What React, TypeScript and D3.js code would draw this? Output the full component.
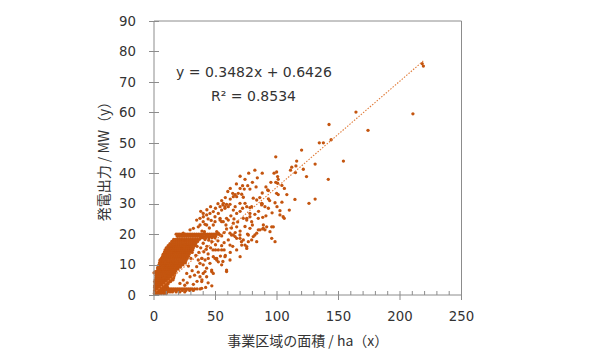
import React, { useEffect, useRef } from 'react';
import * as d3 from 'd3';

// axis ticks
const xTickValues = [0, 50, 100, 150, 200, 250];
const xMinorTicks = [10, 20, 30, 40, 60, 70, 80, 90, 110, 120, 130, 140, 160, 170, 180, 190, 210, 220, 230, 240];
const yTickValues = [0, 10, 20, 30, 40, 50, 60, 70, 80, 90];

// linear trendline shown on the chart
const slope = 0.3482;
const intercept = 0.6426;
const equationLabel = 'y = 0.3482x + 0.6426';
const r2Label = 'R² = 0.8534';
const xTitle = '事業区域の面積 / ha（x）';
const yTitle = '発電出力 / MW（y）';

// rows of [MW, areas] : the band just under 2 MW
const lowBandRows: [number, number[]][] = [
    [1.99, [1, 2.5, 4, 5.5, 7, 8.5, 10, 11.5, 13, 14.5, 16, 17.5, 19, 20.5, 22, 23.5, 25, 26.5, 28, 29.5, 31, 33, 35, 37.5]],
    [1.5, [0.5, 2, 3.5, 5, 6.5, 8, 9.5, 11, 12.5, 14, 16, 18, 20, 23, 26, 29, 32]],
    [1.0, [0.4, 1.5, 3, 4.5, 6, 7.5, 9, 11, 13, 15, 18, 21, 25]],
    [0.5, [0.3, 1, 2, 3, 4.5, 6, 8, 10]],
    [2.5, [0.5, 2, 3.5, 5, 6.5, 8, 9.5, 11]],
];

// dense wedge of small projects
const coreRows: [number, number[]][] = [
    [3.0, [0.5, 2, 3.5, 5, 6.5, 8, 9.5, 10.5]],
    [3.7, [1, 2.5, 4, 5.5, 7, 8.5, 10, 11.5]],
    [4.4, [0.5, 2, 3.5, 5, 6.5, 8, 9.5, 11, 12.5, 13.5]],
    [5.0, [1, 2.5, 4, 5.5, 7, 8.5, 10, 11.5, 13, 14.5, 15.5]],
    [5.7, [1.5, 3, 4.5, 6, 7.5, 9, 10.5, 12, 13.5, 15, 16]],
    [6.4, [1.5, 3, 4.5, 6, 7.5, 9, 10.5, 12, 13.5, 15, 16.5]],
    [7.1, [2, 3.5, 5, 6.5, 8, 9.5, 11, 12.5, 14, 15.5, 17]],
    [7.8, [2.5, 4, 5.5, 7, 8.5, 10, 11.5, 13, 14.5, 16, 17.5]],
    [8.5, [3, 4.5, 6, 7.5, 9, 10.5, 12, 13.5, 15, 16.5, 18, 19.5]],
    [9.2, [3.5, 5, 6.5, 8, 9.5, 11, 12.5, 14, 15.5, 17, 18.5, 20, 21.5]],
    [9.9, [4, 5.5, 7, 8.5, 10, 11.5, 13, 14.5, 16, 17.5, 19, 20.5, 22, 23.5]],
    [10.6, [4.5, 6, 7.5, 9, 10.5, 12, 13.5, 15, 16.5, 18, 19.5, 21, 22.5, 24, 25.5]],
    [11.3, [5, 6.5, 8, 9.5, 11, 12.5, 14, 15.5, 17, 18.5, 20, 21.5, 23, 24.5, 26]],
    [12.0, [6, 7.5, 9, 10.5, 12, 13.5, 15, 16.5, 18, 19.5, 21, 22.5, 24, 25.5, 27]],
    [12.7, [7, 8.5, 10, 11.5, 13, 14.5, 16, 17.5, 19, 20.5, 22, 23.5, 25, 26.5, 28]],
    [13.4, [7.5, 9, 10.5, 12, 13.5, 15, 16.5, 18, 19.5, 21, 22.5, 24, 25.5, 27, 28.5]],
    [14.1, [8.5, 10, 11.5, 13, 14.5, 16, 17.5, 19, 20.5, 22, 23.5, 25, 26.5, 28, 29.5]],
    [14.8, [9, 10.5, 12, 13.5, 15, 16.5, 18, 19.5, 21, 22.5, 24, 25.5, 27, 28.5, 30, 31.5]],
    [15.5, [10.5, 12, 13.5, 15, 16.5, 18, 19.5, 21, 22.5, 24, 25.5, 27, 28.5, 30, 32]],
    [16.2, [11.5, 13, 14.5, 16, 17.5, 19, 20.5, 22, 23.5, 25, 26.5, 28, 29.5, 31, 33]],
    [16.9, [13, 14.5, 16, 17.5, 19, 20.5, 22, 23.5, 25, 26.5, 28, 29.5, 31, 32.5, 34]],
    [17.6, [14.5, 16, 17.5, 19, 20.5, 22, 23.5, 25, 26.5, 28, 29.5, 31, 32.5, 34, 35.5]],
    [18.3, [16, 17.5, 19, 20.5, 22, 23.5, 25, 26.5, 28, 29.5, 31, 32.5, 34, 35.5, 37]],
];

// band just under 20 MW
const band20Rows: [number, number[]][] = [
    [19.99, [18, 19.5, 21, 22.5, 24, 25.5, 27, 28.5, 30, 31.5, 33, 34.5, 36, 37.5, 39, 40.5, 42, 43.5, 45, 46.5, 48, 49.5, 51, 52.5]],
    [19.3, [19, 20.5, 22, 23.5, 25, 26.5, 28, 29.5, 31, 32.5, 34, 35.5, 37, 38.5, 40, 42, 44, 46, 48, 50]],
    [18.8, [38, 40, 42, 44.5, 47, 49.5]],
];

const midScatter: [number, number][] = [
    [0, 7.3], [1, 7.7], [3, 9], [5, 11.5], [7.6, 13.1], [10, 15.5], [13, 16.4], [7.6, 5.5],
    [21.1, 3.8], [23.8, 4.9], [26.6, 7.1], [29.3, 6], [25, 3.2], [27, 4], [32, 3.5], [35, 4.5],
    [31, 8], [33, 6.5], [28, 9.5], [30, 12], [31, 14], [34.7, 9.3], [36, 7.5], [37.4, 6], [38.8, 4.4],
    [39, 5], [44, 4], [47, 3], [38.8, 2.2], [42, 2.5], [37.4, 10.4], [40, 9.9], [42.8, 8.8], [41.5, 7.7],
    [40, 7.1], [42.8, 6], [46.9, 7.7], [48.2, 7.1], [46.9, 8.2], [59, 7.7], [59, 8.2], [55, 9.9],
    [45.5, 10.4], [38.8, 12], [41.5, 11.5], [44.1, 12], [51, 11.5], [52.3, 10.9], [57.7, 12.6],
    [49.6, 12], [51, 12], [48.2, 12.6], [61.8, 11.5], [70, 12.6], [33, 17], [35, 16], [36.5, 14],
    [38, 15.5], [40, 17], [41.5, 18.2], [43, 16], [44, 13.5], [39, 12], [36, 11.5], [34, 13],
    [40.5, 14.2], [42.5, 15], [46, 15.5], [47, 17.5], [44.5, 18], [50, 16.5], [52, 17.8], [55, 16.2],
    [57, 17.2], [58, 13], [54, 12.8], [56, 11], [48, 14.8], [50, 14.8], [52.3, 14.8], [55, 14.8],
    [57, 14.8], [62, 14], [64, 16], [67.2, 14.8], [71.3, 16.4], [75.4, 15.9], [74, 16.4], [75.4, 15.3],
    [61.8, 16.4], [60.4, 18.1], [67.2, 18.6], [69.9, 18.6], [72.6, 18.1], [71.1, 17.5], [76.7, 17.5],
    [79.4, 18.1], [83.5, 17.5], [63, 19.7], [65.9, 19.2], [69.9, 19.7], [76.7, 19.7], [80.7, 19.2],
    [82, 19.7], [83.5, 20.3], [95.7, 18.6], [98.4, 17.5], [51, 20.8], [52.3, 20.3], [53.7, 19.7],
    [55, 19.4], [57, 20.5], [59, 21.7], [61.8, 20.3], [64.5, 19.7], [66, 20.5], [70, 21], [76, 20],
    [21.1, 19.7], [23.8, 20.3], [29.3, 21.4], [32, 21.9], [36, 22.4], [37.4, 23], [39, 21], [41, 20.8],
    [40, 24.1], [41.5, 23.2], [42.8, 23], [45, 22], [48.2, 23], [49.6, 24.1], [49.6, 25.7], [46.5, 24.5],
    [44, 25], [34.7, 24.6], [37.4, 25.2], [40.1, 25.7], [42.8, 26.3], [45.5, 26.8], [48.2, 27.4],
    [40, 26.8], [38, 27.5], [43, 28], [46, 29], [50, 28.5], [52.3, 26.8], [53.7, 25.2], [53.7, 24.6],
    [55, 24.1], [56.3, 24.1], [59, 25.2], [55, 27.9], [57.7, 28.5], [53.7, 29], [56, 29.6], [52, 30],
    [55, 31], [58, 32], [60, 34], [62, 35], [58.5, 23], [63, 22], [60.4, 24.6], [64.5, 23.6],
    [67.2, 22.4], [62.5, 26], [65, 25], [68, 24], [74, 22.5], [72.6, 25.2], [75.4, 24.6], [79.4, 24.1],
    [78, 21.9], [80, 23], [84.8, 21.4], [86.2, 21.4], [88.9, 21.9], [88.4, 21.7], [90.2, 21.4],
    [91.6, 22.4], [94.3, 20.8], [95.7, 22.4], [97, 22.4], [88.9, 23], [75.4, 25.2], [78, 25.7],
    [84.8, 25.2], [88.4, 25.5], [91, 26], [82, 26.5], [78, 26.8], [67.2, 26.8], [64.5, 27.9],
    [70, 27.5], [72, 28.5], [66, 29], [57.7, 29], [60.4, 29], [56.4, 30.1], [59, 29.8], [61.8, 29.8],
    [69.9, 30.1], [74, 30.1], [75.4, 29], [78, 28.7], [79.4, 29], [85, 27.5], [87.5, 29.6], [90.2, 29],
    [93, 28.5], [96, 27], [100, 29], [87.5, 30.1], [88, 29.9], [98.4, 30.3], [83.5, 31.2], [80.7, 31.8],
    [62, 31.5], [64.5, 32.3], [67.2, 32.3], [72.6, 32.1], [68.5, 33.4], [71.3, 33.1], [64, 33.4],
    [65.9, 33], [73.4, 34.8], [78, 34.8], [72, 35.9], [76.2, 35.9], [70, 35], [67, 36.5], [86, 32],
    [88, 33.5], [93, 31.6], [94, 31], [99.7, 33.4], [101, 33], [92.4, 34.5], [93, 34.3], [91, 35.5],
    [83, 35.5], [95, 37], [80, 37], [74, 38], [84, 38.5], [70, 39], [77, 40], [82, 41], [88, 40],
    [97.6, 40], [99.7, 40.4], [100.5, 38.9], [101, 38], [99, 37], [100.5, 36.7], [104, 36], [102.4, 27.7],
    [102.4, 26.3], [105, 25.7], [105.9, 25.2], [110, 27.9], [104, 30.5], [108, 33], [106, 35],
];

const highScatter: [number, number][] = [
    [99, 45.4], [111, 41], [112, 42], [115, 40.2], [115.4, 42.4], [116, 44], [121.4, 41.3], [120, 47.6],
    [124, 38.9], [114.6, 31.4], [126, 30.1], [131, 31.5], [131, 43], [141.7, 38], [134.4, 50],
    [137.7, 50], [144, 51], [142.3, 56], [154, 44], [164.2, 60.1], [174, 54.1], [210.5, 59.5],
    [218, 76], [219, 75.2],
];

const margin = { left: 154, right: 461.5, top: 21, bottom: 295 };

function collectPoints(): [number, number][] {
    const pts: [number, number][] = [];
    [lowBandRows, coreRows, band20Rows].forEach((rows) => {
        rows.forEach(([mw, areas]) => areas.forEach((a) => pts.push([a, mw])));
    });
    return pts.concat(midScatter, highScatter);
}

export default function App() {
    const ref = useRef<SVGSVGElement>(null);

    useEffect(() => {
        document.body.style.margin = '0';
        const svg = d3.select(ref.current);
        svg.selectAll('*').remove();

        const xScale = d3.scaleLinear().domain([0, 250]).range([margin.left, margin.right]);
        const yScale = d3.scaleLinear().domain([0, 90]).range([margin.bottom, margin.top]);
        const axisColor = '#8c8c8c';
        const textColor = '#333333';
        const tickFont = '"DejaVu Sans", Verdana, sans-serif';

        // plot area border (top + right)
        svg.append('path')
            .attr('d', `M${margin.left},${margin.top}H${margin.right}V${margin.bottom}`)
            .attr('fill', 'none')
            .attr('stroke', axisColor)
            .attr('stroke-width', 1);

        const points = collectPoints();
        svg.append('g')
            .selectAll('circle')
            .data(points)
            .enter()
            .append('circle')
            .attr('cx', (d) => xScale(d[0]))
            .attr('cy', (d) => yScale(d[1]))
            .attr('r', 1.65)
            .attr('fill', '#c4550f');

        // trendline over the data range
        const xExtent = d3.extent(points, (d) => d[0]) as [number, number];
        svg.append('line')
            .attr('x1', xScale(xExtent[0]))
            .attr('y1', yScale(slope * xExtent[0] + intercept))
            .attr('x2', xScale(xExtent[1]))
            .attr('y2', yScale(slope * xExtent[1] + intercept))
            .attr('stroke', '#e07b39')
            .attr('stroke-width', 1.1)
            .attr('stroke-dasharray', '1.5 1.5');

        // left axis with crossing ticks
        const gAxis = svg.append('g').attr('stroke', axisColor).attr('stroke-width', 1);
        gAxis.append('line')
            .attr('x1', margin.left).attr('x2', margin.left)
            .attr('y1', margin.top).attr('y2', margin.bottom);
        gAxis.selectAll('.ytick')
            .data(yTickValues)
            .enter()
            .append('line')
            .attr('class', 'ytick')
            .attr('x1', margin.left - 5).attr('x2', margin.left + 5)
            .attr('y1', (d) => Math.round(yScale(d)) + 0.5).attr('y2', (d) => Math.round(yScale(d)) + 0.5);

        // bottom axis
        gAxis.append('line')
            .attr('x1', margin.left).attr('x2', margin.right)
            .attr('y1', margin.bottom).attr('y2', margin.bottom);
        gAxis.selectAll('.xtick')
            .data(xTickValues)
            .enter()
            .append('line')
            .attr('class', 'xtick')
            .attr('x1', (d) => xScale(d)).attr('x2', (d) => xScale(d))
            .attr('y1', margin.bottom - 4).attr('y2', margin.bottom + 5);
        gAxis.selectAll('.xminor')
            .data(xMinorTicks)
            .enter()
            .append('line')
            .attr('class', 'xminor')
            .attr('x1', (d) => xScale(d)).attr('x2', (d) => xScale(d))
            .attr('y1', margin.bottom - 4).attr('y2', margin.bottom);

        svg.append('g')
            .selectAll('text')
            .data(yTickValues)
            .enter()
            .append('text')
            .attr('x', 136)
            .attr('y', (d) => yScale(d))
            .attr('dy', '0.36em')
            .attr('text-anchor', 'end')
            .attr('font-family', tickFont)
            .attr('font-size', 13.3)
            .attr('fill', textColor)
            .text((d) => d);

        svg.append('g')
            .selectAll('text')
            .data(xTickValues)
            .enter()
            .append('text')
            .attr('x', (d) => xScale(d))
            .attr('y', 321)
            .attr('text-anchor', 'middle')
            .attr('font-family', tickFont)
            .attr('font-size', 13.3)
            .attr('fill', textColor)
            .text((d) => d);

        // equation labels
        svg.append('text')
            .attr('x', 176).attr('y', 77)
            .attr('font-family', tickFont).attr('font-size', 14)
            .attr('fill', textColor)
            .text(equationLabel);
        svg.append('text')
            .attr('x', 211).attr('y', 101)
            .attr('font-family', tickFont).attr('font-size', 14)
            .attr('fill', textColor)
            .text(r2Label);

        // axis titles
        const titleFont = '"Noto Sans CJK JP", "Noto Sans", sans-serif';
        svg.append('text')
            .attr('x', (margin.left + margin.right) / 2)
            .attr('y', 346)
            .attr('text-anchor', 'middle')
            .attr('font-family', titleFont).attr('font-size', 14)
            .attr('fill', textColor)
            .text(xTitle);
        svg.append('text')
            .attr('transform', `translate(109,${(margin.top + margin.bottom) / 2}) rotate(-90)`)
            .attr('text-anchor', 'middle')
            .attr('font-family', titleFont).attr('font-size', 14)
            .attr('fill', textColor)
            .text(yTitle);
    }, []);

    return <svg ref={ref} width={590} height={355} style={{ display: 'block', background: '#fff' }} />;
}
